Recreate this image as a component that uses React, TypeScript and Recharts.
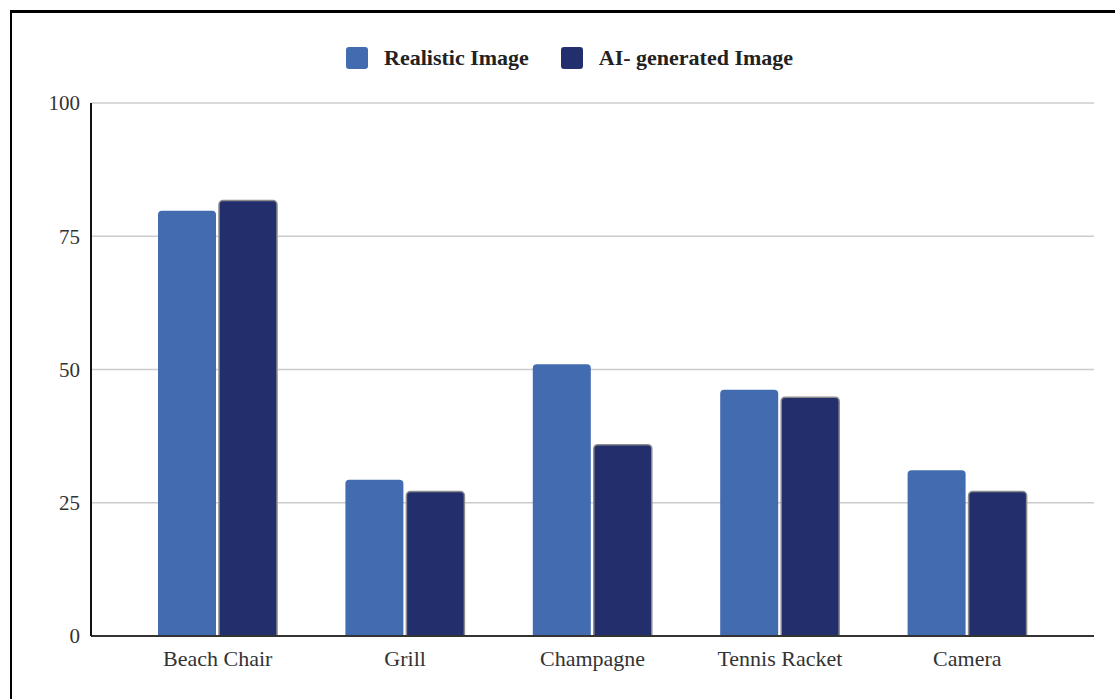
import { BarChart, Bar, XAxis, YAxis, CartesianGrid, Legend } from "recharts";

// Chart data
const categories = ["Beach Chair", "Grill", "Champagne", "Tennis Racket", "Camera"];
const realisticValues = [79.8, 29.3, 51, 46.2, 31.1];
const aiGeneratedValues = [81.7, 27.1, 35.9, 44.8, 27.1];
const yTicks = [0, 25, 50, 75, 100];

const SERIES = [
  { key: "realistic", name: "Realistic Image", color: "#426bb0", stroke: "none" },
  { key: "ai", name: "AI- generated Image", color: "#232f6c", stroke: "#8c8c8c" },
];

const data = categories.map((name, i) => ({
  name,
  realistic: realisticValues[i],
  ai: aiGeneratedValues[i],
}));

const FONT = "'Liberation Serif', 'Times New Roman', serif";

function LegendContent() {
  return (
    <div style={{ height: 73, paddingTop: 17, boxSizing: "border-box", display: "flex", paddingLeft: 346 }}>
      {SERIES.map((s, i) => (
        <div key={s.key} style={{ display: "flex", alignItems: "center", height: 22, marginRight: i === 0 ? 32 : 0 }}>
          <div style={{ width: 22, height: 22, borderRadius: 3, background: s.color, marginRight: 16 }} />
          <span style={{ fontFamily: FONT, fontWeight: "bold", fontSize: 22, color: "#222", lineHeight: "22px" }}>
            {s.name}
          </span>
        </div>
      ))}
    </div>
  );
}

export default function App() {
  return (
    <div style={{ position: "absolute", left: 0, top: 0, width: 1115, height: 699, background: "#fff" }}>
      <div
        style={{
          position: "absolute",
          left: 10,
          top: 10,
          width: 1105,
          height: 689,
          borderTop: "3px solid #000",
          borderLeft: "2px solid #000",
          boxSizing: "border-box",
        }}
      />
      <div style={{ position: "absolute", left: 0, top: 0 }}>
        <BarChart
          width={1115}
          height={699}
          data={data}
          margin={{ top: 30, right: 21, bottom: 33, left: 20 }}
          barSize={58}
          barGap={3}
        >
          <CartesianGrid vertical={false} stroke="#cccccc" strokeWidth={1.5} />
          <Legend verticalAlign="top" align="left" content={() => <LegendContent />} wrapperStyle={{ left: 0, width: 1115 }} />
          <XAxis
            dataKey="name"
            height={30}
            padding={{ left: 33, right: 33 }}
            tickLine={false}
            tickMargin={8}
            axisLine={{ stroke: "#333", strokeWidth: 2 }}
            tick={{ fill: "#333", fontSize: 22, fontFamily: FONT }}
          />
          <YAxis
            width={71}
            domain={[0, 100]}
            ticks={yTicks}
            interval={0}
            tickLine={false}
            tickMargin={5}
            axisLine={{ stroke: "#111", strokeWidth: 2 }}
            tick={{ fill: "#333", fontSize: 21, fontFamily: FONT }}
          />
          {SERIES.map((s) => (
            <Bar
              key={s.key}
              dataKey={s.key}
              name={s.name}
              fill={s.color}
              stroke={s.stroke}
              strokeWidth={s.stroke === "none" ? 0 : 1.5}
              radius={[4, 4, 0, 0]}
              isAnimationActive={false}
            />
          ))}
        </BarChart>
      </div>
    </div>
  );
}
